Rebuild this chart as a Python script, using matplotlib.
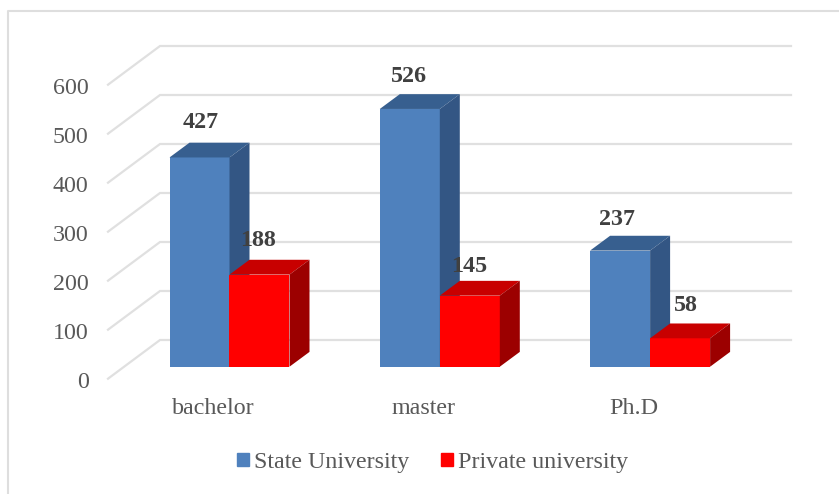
from matplotlib import pyplot as plt
from matplotlib.lines import Line2D
from matplotlib.patches import Patch, Polygon

categories = ["bachelor", "master", "Ph.D"]
state_values = [427, 526, 237]
private_values = [188, 145, 58]
y_ticks = [0, 100, 200, 300, 400, 500, 600]

# pixel scale of the front plane
PX_W, PX_H = 839, 494
X0, GROUP_PX = 229.5, 210.3
Y0, PX_PER_UNIT = 366.7, 0.49
BAR_W = 60 / GROUP_PX
DEPTH_X = 20 / GROUP_PX
DEPTH_Y = 14.8 / PX_PER_UNIT
WALL_X = 160
WALL_END_X = 791
WALL_DY = 26.7 / PX_PER_UNIT
FRONT_X = 108
FRONT_DY = -12 / PX_PER_UNIT

GRID = "#e0e0e0"
TICK_TEXT = "#595959"
VALUE_TEXT = "#404040"
FONT = "Liberation Serif"
FS = 17.3

# label nudges in pixels: (dx, dy above the front top edge)
state_label_off = [(1, 29), (-1, 27), (-3, 25.5)]
private_label_off = [(-1, 29), (-0.5, 24), (5.5, 27.5)]


def px_x(px):
    return (px - X0) / GROUP_PX


fig = plt.figure(figsize=(PX_W / 100, PX_H / 100), dpi=100)
ax = fig.add_axes([0, 0, 1, 1])
ax.set_xlim(px_x(0), px_x(PX_W))
ax.set_ylim((Y0 - PX_H) / PX_PER_UNIT, Y0 / PX_PER_UNIT)
ax.axis("off")

# chart frame, only left and top are inside the crop
fig.add_artist(Line2D([8 / PX_W, 8 / PX_W, 1], [0, 1 - 11 / PX_H, 1 - 11 / PX_H],
                      color="#dedede", lw=1.5))

# wall gridlines and the diagonal floor lines
for v in y_ticks:
    ax.plot([px_x(FRONT_X), px_x(WALL_X), px_x(WALL_END_X)],
            [v + FRONT_DY, v + WALL_DY, v + WALL_DY],
            color=GRID, lw=1.6, zorder=1, solid_joinstyle="miter")
    ax.text(px_x(88.5), v + FRONT_DY - 8, str(v), ha="right", va="center",
            family=FONT, fontsize=FS, color=TICK_TEXT)


def draw_bar(left, value, front, top, side, z):
    right = left + BAR_W
    ax.bar(left, value, BAR_W, align="edge", color=front, zorder=z)
    ax.add_patch(Polygon([(left, value), (left + DEPTH_X, value + DEPTH_Y),
                          (right + DEPTH_X, value + DEPTH_Y), (right, value)],
                         closed=True, color=top, lw=0, zorder=z))
    ax.add_patch(Polygon([(right, 0), (right + DEPTH_X, DEPTH_Y),
                          (right + DEPTH_X, value + DEPTH_Y), (right, value)],
                         closed=True, color=side, lw=0, zorder=z))


for i, cat in enumerate(categories):
    z = 2 + i * 2
    draw_bar(i - BAR_W, state_values[i], "#4f81bd", "#375f8f", "#335684", z)
    draw_bar(i, private_values[i], "#ff0000", "#c80000", "#9c0000", z + 1)

    ax.annotate(str(state_values[i]), (i - BAR_W / 2, state_values[i]),
                xytext=state_label_off[i], textcoords="offset pixels",
                ha="center", va="baseline", family=FONT, fontsize=FS,
                fontweight="bold", color=VALUE_TEXT, zorder=20)
    ax.annotate(str(private_values[i]), (i + BAR_W / 2, private_values[i]),
                xytext=private_label_off[i], textcoords="offset pixels",
                ha="center", va="baseline", family=FONT, fontsize=FS,
                fontweight="bold", color=VALUE_TEXT, zorder=20)

    ax.annotate(cat, (i, 0), xytext=(-16, -47.3), textcoords="offset pixels",
                ha="center", va="baseline", family=FONT, fontsize=FS, color=TICK_TEXT)

handles = [Patch(color="#4f81bd", label="State University"),
           Patch(color="#ff0000", label="Private university")]
ax.legend(handles=handles, loc="center", bbox_to_anchor=(432.7 / PX_W, 1 - 462.5 / PX_H),
          ncol=2, frameon=False, labelcolor=TICK_TEXT,
          prop={"family": FONT, "size": FS},
          handlelength=0.5, handleheight=0.5, handletextpad=0.2, columnspacing=1.33,
          borderpad=0, borderaxespad=0)

fig.savefig("out.png", dpi=100)
